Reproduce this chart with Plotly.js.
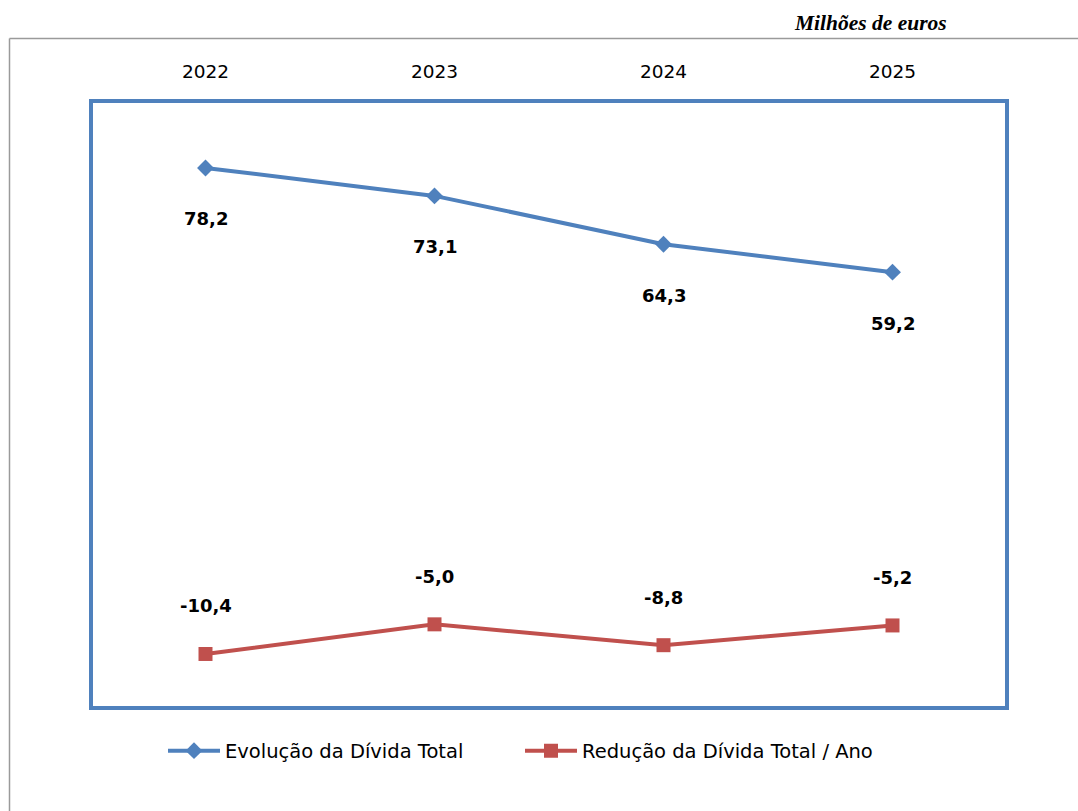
<!DOCTYPE html>
<html>
<head>
<meta charset="utf-8">
<script src="https://cdn.plot.ly/plotly-3.0.1.min.js"></script>
<style>
html,body{margin:0;padding:0;background:#fff;}
#chart{width:1078px;height:811px;}
</style>
</head>
<body>
<div id="chart"></div>
<script>
const years = ['2022', '2023', '2024', '2025'];
const evolucao = [78.2, 73.1, 64.3, 59.2];
const reducao = [-10.4, -5.0, -8.8, -5.2];
const nameEvolucao = 'Evolução da Dívida Total';
const nameReducao = 'Redução da Dívida Total / Ano';
const unitLabel = 'Milhões de euros';

const BLUE = '#4F81BD';
const RED = '#C0504D';
const FONT = '"DejaVu Sans", Verdana, sans-serif';

const W = 1078, H = 811;
const M = {l: 91, r: 71, t: 101, b: 103};
const pw = W - M.l - M.r, ph = H - M.t - M.b;
const px = x => (x - M.l) / pw;
const py = y => (H - M.b - y) / ph;

const fmt = v => v.toFixed(1).replace('.', ',');

const traces = [
  {
    x: years, y: evolucao, name: nameEvolucao, type: 'scatter', mode: 'lines+markers',
    line: {color: BLUE, width: 4},
    marker: {symbol: 'diamond', size: 13, color: BLUE},
    hoverinfo: 'skip'
  },
  {
    x: years, y: reducao, name: nameReducao, type: 'scatter', mode: 'lines+markers',
    line: {color: RED, width: 4},
    marker: {symbol: 'square', size: 14, color: RED},
    hoverinfo: 'skip'
  }
];

const annotations = [];
years.forEach((yr, i) => {
  annotations.push({x: i, y: evolucao[i], xref: 'x', yref: 'y', text: '<b>' + fmt(evolucao[i]) + '</b>',
    showarrow: false, yshift: -51, font: {family: FONT, size: 18, color: '#000'}});
  annotations.push({x: i, y: reducao[i], xref: 'x', yref: 'y', text: '<b>' + fmt(reducao[i]) + '</b>',
    showarrow: false, yshift: 48, font: {family: FONT, size: 18, color: '#000'}});
});
annotations.push({
  xref: 'paper', yref: 'paper', x: px(949), y: py(23), xanchor: 'right', yanchor: 'middle',
  text: '<b><i>' + unitLabel + '</i></b>', showarrow: false,
  font: {family: '"Liberation Serif", "Times New Roman", serif', size: 21.5, color: '#000'}
});

const layout = {
  width: W, height: H,
  margin: M,
  paper_bgcolor: '#fff', plot_bgcolor: '#fff',
  showlegend: true,
  legend: {
    orientation: 'h', x: px(163), xanchor: 'left', y: py(751), yanchor: 'middle',
    font: {family: FONT, size: 19.5, color: '#000'}, itemwidth: 52, entrywidth: 290,
    traceorder: 'normal'
  },
  xaxis: {
    type: 'category', side: 'top', range: [-0.5, 3.5],
    showgrid: false, zeroline: false, showline: false, ticks: '',
    ticklabelstandoff: 18,
    tickfont: {family: FONT, size: 18.5, color: '#000'}
  },
  yaxis: {
    range: [-20.25, 90.4], showgrid: false, zeroline: false, showline: false,
    showticklabels: false, ticks: ''
  },
  shapes: [
    {type: 'rect', xref: 'paper', yref: 'paper', x0: 0, x1: 1, y0: 0, y1: 1,
      line: {color: BLUE, width: 4}, layer: 'above'},
    {type: 'line', xref: 'paper', yref: 'paper', x0: px(9.5), x1: px(9.5), y0: py(38.5), y1: py(H + 2),
      line: {color: '#9a9a9a', width: 1.5}},
    {type: 'line', xref: 'paper', yref: 'paper', x0: px(9.5), x1: px(W + 2), y0: py(38.5), y1: py(38.5),
      line: {color: '#9a9a9a', width: 1.5}}
  ],
  annotations: annotations
};

Plotly.newPlot('chart', traces, layout, {displayModeBar: false, staticPlot: true});
</script>
</body>
</html>
